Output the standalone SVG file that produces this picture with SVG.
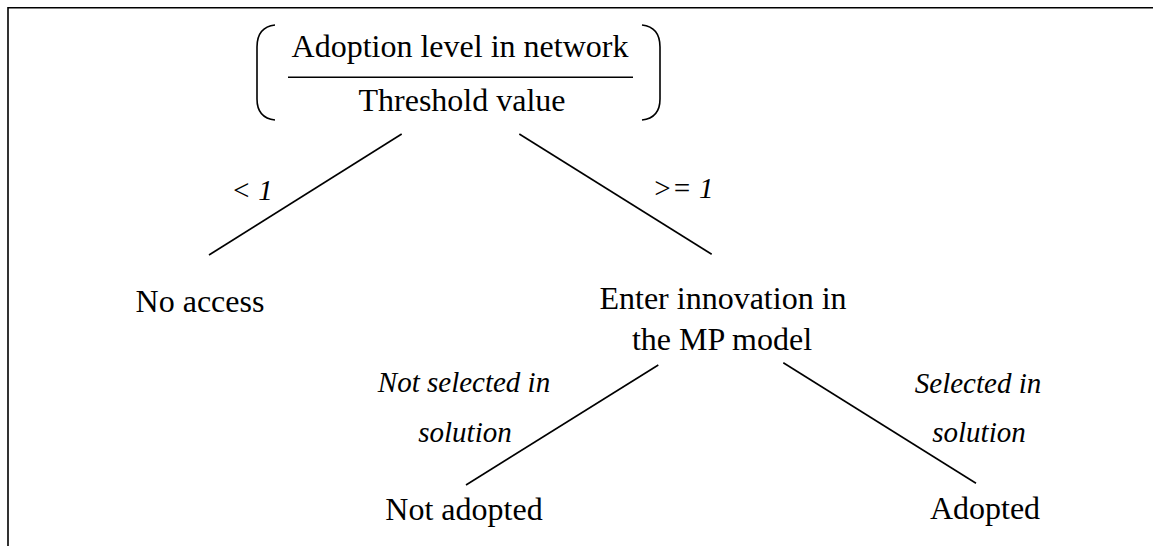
<svg xmlns="http://www.w3.org/2000/svg" width="1153" height="546" viewBox="0 0 1153 546">
<style>
.t{font-family:"Liberation Serif","Times New Roman",serif;font-size:32px;fill:#000;text-anchor:middle}
.i{font-family:"Liberation Serif","Times New Roman",serif;font-size:29px;font-style:italic;fill:#000;text-anchor:middle}
.ln{stroke:#000;stroke-width:1.6;fill:none}
</style>
<rect width="1153" height="546" fill="#fff"/>
<g id="frame">
<path class="ln" d="M8 546 V7.8 H1153" stroke-width="1.5"/>
</g>
<g id="root">
<path class="ln" d="M275 25 Q257 27 257 47 V99 Q257 118 275 120"/>
<path class="ln" d="M642 25 Q660 27 660 47 V99 Q660 118 642 120"/>
<line class="ln" x1="288" y1="77.3" x2="633" y2="77.3"/>
<text class="t" x="460" y="57">Adoption level in network</text>
<text class="t" x="462" y="111">Threshold value</text>
</g>
<g id="noaccess"><text class="t" x="200" y="312">No access</text></g>
<g id="enter">
<text class="t" x="723" y="309">Enter innovation in</text>
<text class="t" x="722" y="350">the MP model</text>
</g>
<g id="notadopted"><text class="t" x="464" y="520">Not adopted</text></g>
<g id="adopted"><text class="t" x="985" y="519">Adopted</text></g>
<g id="connectors">
<line class="ln" x1="401.7" y1="134" x2="209" y2="255"/>
<line class="ln" x1="519.3" y1="134" x2="711.7" y2="254.3"/>
<line class="ln" x1="658.3" y1="365" x2="466" y2="485"/>
<line class="ln" x1="783.3" y1="362.7" x2="976" y2="483.3"/>
<text class="i" x="252" y="200">&lt; 1</text>
<text class="i" x="683" y="198">&gt;= 1</text>
<text class="i" x="464" y="392">Not selected in</text>
<text class="i" x="465" y="441.5">solution</text>
<text class="i" x="978" y="393">Selected in</text>
<text class="i" x="979" y="441.5">solution</text>
</g>
</svg>
